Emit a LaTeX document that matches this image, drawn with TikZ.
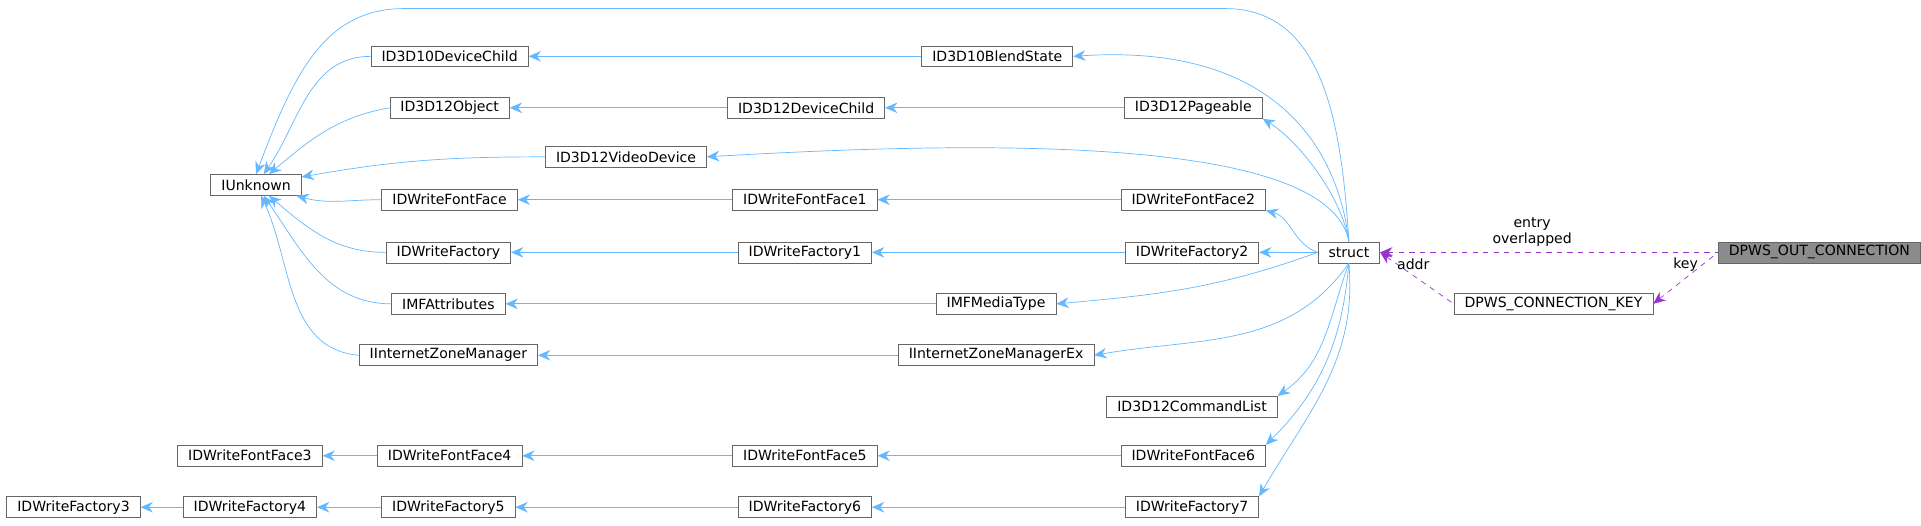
\documentclass[tikz,border=0pt]{standalone}
\usepackage{fontspec}
\setmainfont{DejaVu Sans}
\usetikzlibrary{arrows.meta}
\definecolor{edgeblue}{RGB}{99,184,255}
\definecolor{usepurple}{RGB}{154,50,205}
\tikzset{
  cls/.style={draw=black!60, fill=white, font=\fontsize{8}{9.5}\selectfont, minimum height=0.42cm, inner xsep=6pt, inner ysep=0pt},
  inh/.style={{Stealth[length=7pt,width=6pt]}-, edgeblue, thin},
  use/.style={{Stealth[length=7pt,width=6pt]}-, usepurple, thin, dashed},
  lbl/.style={font=\fontsize{8}{9}\selectfont, align=center, text=black}
}
\begin{document}
\begin{tikzpicture}[x=0.0245cm,y=-0.0245cm]
\useasboundingbox (0,0) rectangle (1568,429);

% connectors first, boxes on top
\begin{scope}[on background layer/.try]
\end{scope}

% class nodes
\node[cls] (IUnknown) at (209,151) {IUnknown};
\node[cls] (D3D10Child) at (367,46) {ID3D10DeviceChild};
\node[cls] (D3D12Obj) at (367,88) {ID3D12Object};
\node[cls] (VideoDev) at (511,128) {ID3D12VideoDevice};
\node[cls] (FontFace) at (367,163) {IDWriteFontFace};
\node[cls] (Factory) at (366,206) {IDWriteFactory};
\node[cls] (MFAttr) at (366,248) {IMFAttributes};
\node[cls] (ZoneMgr) at (366,290) {IInternetZoneManager};
\node[cls] (BlendState) at (814,46) {ID3D10BlendState};
\node[cls] (D3D12Child) at (658,88) {ID3D12DeviceChild};
\node[cls] (Pageable) at (974,88) {ID3D12Pageable};
\node[cls] (FontFace1) at (657,163) {IDWriteFontFace1};
\node[cls] (FontFace2) at (974,163) {IDWriteFontFace2};
\node[cls] (Factory1) at (657,206) {IDWriteFactory1};
\node[cls] (Factory2) at (973,206) {IDWriteFactory2};
\node[cls] (MediaType) at (813,248) {IMFMediaType};
\node[cls] (ZoneMgrEx) at (813,290) {IInternetZoneManagerEx};
\node[cls] (CmdList) at (973,332) {ID3D12CommandList};
\node[cls] (FontFace3) at (204,372) {IDWriteFontFace3};
\node[cls] (FontFace4) at (367,372) {IDWriteFontFace4};
\node[cls] (FontFace5) at (657,372) {IDWriteFontFace5};
\node[cls] (FontFace6) at (974,372) {IDWriteFontFace6};
\node[cls] (Factory3) at (60,414) {IDWriteFactory3};
\node[cls] (Factory4) at (204,414) {IDWriteFactory4};
\node[cls] (Factory5) at (366,414) {IDWriteFactory5};
\node[cls] (Factory6) at (657,414) {IDWriteFactory6};
\node[cls] (Factory7) at (973,414) {IDWriteFactory7};
\node[cls] (struct) at (1101,206) {struct};
\node[cls] (ConnKey) at (1268,248) {DPWS\_CONNECTION\_KEY};
\node[cls, fill=black!45] (OutConn) at (1485,206) {DPWS\_OUT\_CONNECTION};

% IUnknown children
\draw[inh] (IUnknown) to[out=55,in=180] (D3D10Child.west);
\draw[inh] (IUnknown) to[out=40,in=190] (D3D12Obj.west);
\draw[inh] (IUnknown) to[out=10,in=180] (VideoDev.west);
\draw[inh] (IUnknown) to[out=-15,in=180] (FontFace.west);
\draw[inh] (IUnknown) to[out=-40,in=180] (Factory.west);
\draw[inh] (IUnknown) to[out=-55,in=180] (MFAttr.west);
\draw[inh] (IUnknown) to[out=-65,in=175] (ZoneMgr.west);
\draw[inh] (IUnknown.north) .. controls (240,60) and (265,7) .. (330,7) -- (1000,7) .. controls (1080,7) and (1095,100) .. (struct.north);

% straight chains
\draw[inh] (D3D10Child) -- (BlendState);
\draw[inh] (D3D12Obj) -- (D3D12Child);
\draw[inh] (D3D12Child) -- (Pageable);
\draw[inh] (FontFace) -- (FontFace1);
\draw[inh] (FontFace1) -- (FontFace2);
\draw[inh] (Factory) -- (Factory1);
\draw[inh] (Factory1) -- (Factory2);
\draw[inh] (MFAttr) -- (MediaType);
\draw[inh] (ZoneMgr) -- (ZoneMgrEx);
\draw[inh] (FontFace3) -- (FontFace4);
\draw[inh] (FontFace4) -- (FontFace5);
\draw[inh] (FontFace5) -- (FontFace6);
\draw[inh] (Factory3) -- (Factory4);
\draw[inh] (Factory4) -- (Factory5);
\draw[inh] (Factory5) -- (Factory6);
\draw[inh] (Factory6) -- (Factory7);

% struct bases
\draw[inh] (BlendState.east) .. controls (1040,35) and (1092,120) .. (struct.north);
\draw[inh] (Pageable.south east) .. controls (1060,115) and (1095,160) .. (struct.north);
\draw[inh] (VideoDev.east) .. controls (800,115) and (1085,110) .. (struct.north);
\draw[inh] (FontFace2.south east) to[out=-15,in=160] (struct.west);
\draw[inh] (Factory2) -- (struct);
\draw[inh] (MediaType.east) to[out=5,in=200] (struct.west);
\draw[inh] (ZoneMgrEx.east) to[out=10,in=235] (struct.south);
\draw[inh] (CmdList.north east) to[out=35,in=250] (struct.south);
\draw[inh] (FontFace6.north east) to[out=45,in=265] (struct.south);
\draw[inh] (Factory7.north east) to[out=60,in=275] (struct.south);

% usage
\draw[use] (struct.east) -- node[lbl, above, pos=0.45] {entry\\overlapped} (OutConn.west);
\draw[use] (struct.east) -- node[lbl, above, pos=0.45] {addr} (ConnKey.west);
\draw[use] (ConnKey.east) -- node[lbl, above] {key} (OutConn.west);
\end{tikzpicture}
\end{document}
